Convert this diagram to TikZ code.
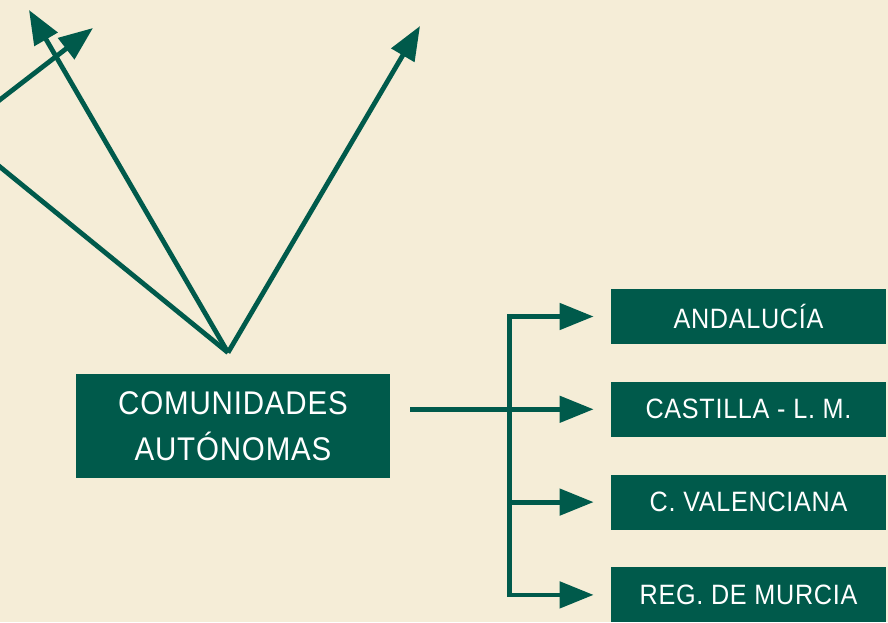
\documentclass[tikz,border=0pt]{standalone}
\usepackage{fontspec}
\setmainfont{Liberation Sans}
\newfontfamily\condfont[FakeStretch=0.9, LetterSpace=2.5]{Liberation Sans}
\usepackage{xcolor}
\usetikzlibrary{positioning, calc, arrows.meta}
\definecolor{ccgreen}{RGB}{0,90,75}
\definecolor{cream}{RGB}{245,237,215}

\begin{document}
\begin{tikzpicture}[x=0.5pt,y=0.5pt,
  box/.style={fill=ccgreen, text=white, inner sep=0pt, align=center},
  region/.style={box, minimum width=137.5pt, minimum height=27.5pt, font=\condfont\fontsize{14}{16}\selectfont},
  arr/.style={draw=ccgreen, line width=2.4pt, -{Triangle[length=17pt,width=13pt]}},
  node distance=18.5pt]

% Background
\fill[cream] (0,0) rectangle (888,622);
\useasboundingbox (0,0) rectangle (888,622);
\clip (0,0) rectangle (888,622);

% Define nodes
\node[box, minimum width=157pt, minimum height=52pt, font=\condfont\fontsize{16.4}{23.25}\selectfont] (ccaa) at (233,196) {COMUNIDADES\\AUTÓNOMAS};
\node[region] (and) at (748.5,305.5) {ANDALUCÍA};
\node[region, below=of and] (clm) {CASTILLA - L. M.};
\node[region, below=of clm] (val) {C. VALENCIANA};
\node[region, below=of val] (mur) {REG. DE MURCIA};

% Arrows above
\coordinate (top) at ([shift={(-2.5pt,10.5pt)}]ccaa.north);
\coordinate (tipa) at (420,596);
\coordinate (tipb) at (29,612);
\coordinate (tipc) at (93,594);
\coordinate (offa) at (-60,504);
\coordinate (offb) at (-60,476);
\draw[arr] (top) -- (tipa);
\draw[arr] (top) -- (tipb);
\draw[arr, -] (top) -- (offa);
\draw[arr] (offb) -- (tipc);

% Connect the nodes
\coordinate (out) at ([xshift=10pt]ccaa.east);
\coordinate (spine) at ([xshift=-50.5pt]clm.west);
\draw[arr, shorten >=8.5pt] (out |- clm.west) -- (clm.west);
\foreach \r in {and, val, mur}
  \draw[arr, shorten >=8.5pt] (spine) |- (\r.west);
\end{tikzpicture}
\end{document}
